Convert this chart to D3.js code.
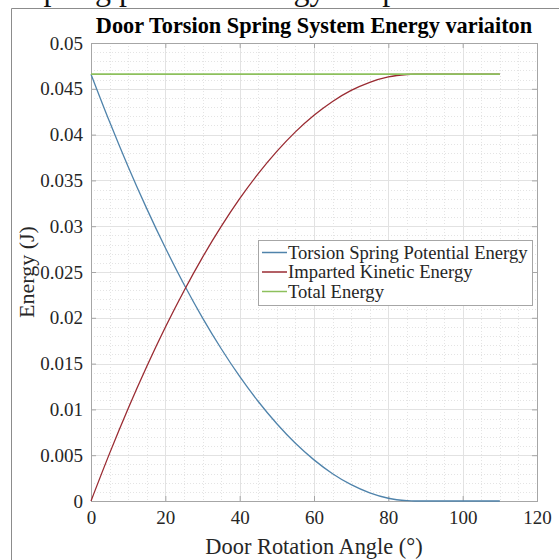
<!DOCTYPE html>
<html>
<head>
<meta charset="utf-8">
<script src="https://cdn.jsdelivr.net/npm/d3@7"></script>
<style>
  body { margin: 0; background: #fff; }
  svg { display: block; }
  text { font-family: "Liberation Serif", "Times New Roman", serif; fill: #262626; }
</style>
</head>
<body>
<svg id="chart" width="559" height="560"></svg>
<script>
// Door rotation angle (degrees)
const angles = [0, 5, 10, 15, 20, 25, 30, 35, 40, 45, 50, 55, 60, 65, 70, 75, 80, 85, 87, 90, 95, 100, 105, 110];
// Energy stored in the torsion spring (J)
const springEnergy = [0.0466, 0.0414, 0.0365, 0.03192, 0.02764, 0.02367, 0.0200, 0.01665, 0.0136, 0.01086, 0.00843, 0.0063, 0.00449, 0.00298, 0.00178, 0.00089, 0.0003, 0.00004, 0, 0, 0, 0, 0, 0];
// Kinetic energy imparted to the door (J)
const kineticEnergy = [0, 0.0052, 0.0101, 0.01468, 0.01896, 0.02293, 0.0266, 0.02995, 0.033, 0.03574, 0.03817, 0.0403, 0.04211, 0.04362, 0.04482, 0.04571, 0.0463, 0.04656, 0.0466, 0.0466, 0.0466, 0.0466, 0.0466, 0.0466];
// Sum of both (J)
const totalEnergy = [0.0466, 0.0466, 0.0466, 0.0466, 0.0466, 0.0466, 0.0466, 0.0466, 0.0466, 0.0466, 0.0466, 0.0466, 0.0466, 0.0466, 0.0466, 0.0466, 0.0466, 0.0466, 0.0466, 0.0466, 0.0466, 0.0466, 0.0466, 0.0466];

const seriesNames = ["Torsion Spring Potential Energy", "Imparted Kinetic Energy", "Total Energy"];
const seriesColors = ["#4f83ab", "#9a2b32", "#8dc05c"];
const xTicks = [0, 20, 40, 60, 80, 100, 120];
const yTicks = [0, 0.005, 0.01, 0.015, 0.02, 0.025, 0.03, 0.035, 0.04, 0.045, 0.05];
const xMinor = d3.range(0, 121, 5);
const yMinor = d3.range(0, 51, 1).map(v => v / 1000);

const titleText = "Door Torsion Spring System Energy variaiton";
const xLabel = "Door Rotation Angle (\u00B0)";
const yLabel = "Energy (J)";
const captionText = "spring potential energy to open the door quickly";

const svg = d3.select("#chart");
const W = 559, H = 560;
const pLeft = 91, pRight = 537, pTop = 43, pBottom = 501;

const x = d3.scaleLinear().domain([0, 120]).range([pLeft, pRight]);
const y = d3.scaleLinear().domain([0, 0.05]).range([pBottom, pTop]);

// caption line above the figure, running off the top edge
svg.append("text")
  .attr("x", 31).attr("y", 0)
  .style("font-size", "32px")
  .style("fill", "#111")
  .text(captionText);

// figure frame
svg.append("path")
  .attr("d", `M11.5,${H} V8.5 H${W}`)
  .attr("fill", "none")
  .attr("stroke", "#8c8c8c")
  .attr("stroke-width", 1);

// plot background
svg.append("rect")
  .attr("x", pLeft).attr("y", pTop)
  .attr("width", pRight - pLeft).attr("height", pBottom - pTop)
  .attr("fill", "#fff");

// minor grid (dotted)
const grid = svg.append("g");
grid.selectAll(".mx").data(xMinor.filter(v => v % 20 !== 0)).join("line")
  .attr("x1", d => Math.round(x(d)) + 0.5).attr("x2", d => Math.round(x(d)) + 0.5)
  .attr("y1", pTop).attr("y2", pBottom)
  .attr("stroke", "#e4e4e4").attr("stroke-dasharray", "1,2");
grid.selectAll(".my").data(yMinor.filter((v, i) => i % 5 !== 0)).join("line")
  .attr("y1", d => Math.round(y(d)) + 0.5).attr("y2", d => Math.round(y(d)) + 0.5)
  .attr("x1", pLeft).attr("x2", pRight)
  .attr("stroke", "#e4e4e4").attr("stroke-dasharray", "1,2");
// major grid
grid.selectAll(".gx").data(xTicks).join("line")
  .attr("x1", d => Math.round(x(d)) + 0.5).attr("x2", d => Math.round(x(d)) + 0.5)
  .attr("y1", pTop).attr("y2", pBottom)
  .attr("stroke", "#e2e2e2");
grid.selectAll(".gy").data(yTicks).join("line")
  .attr("y1", d => Math.round(y(d)) + 0.5).attr("y2", d => Math.round(y(d)) + 0.5)
  .attr("x1", pLeft).attr("x2", pRight)
  .attr("stroke", "#e2e2e2");

// axes with inward ticks on all four sides
const axisColor = "#a6a6a6";
function styleAxis(g) {
  g.select(".domain").remove();
  g.selectAll(".tick line").attr("stroke", axisColor);
  g.selectAll(".tick text").style("font-size", "19px").style("font-family", "Liberation Serif, serif").attr("fill", "#262626");
}
const fmtY = d => d === 0 ? "0" : String(+d.toFixed(3));
svg.append("g").attr("transform", `translate(0,${pBottom})`)
  .call(d3.axisBottom(x).tickValues(xTicks).tickSize(-5).tickPadding(10).tickFormat(d3.format("d")))
  .call(styleAxis);
svg.append("g").attr("transform", `translate(0,${pTop})`)
  .call(d3.axisTop(x).tickValues(xTicks).tickSize(-5).tickFormat(""))
  .call(styleAxis);
svg.append("g").attr("transform", `translate(${pLeft},0)`)
  .call(d3.axisLeft(y).tickValues(yTicks).tickSize(-5).tickPadding(8).tickFormat(fmtY))
  .call(styleAxis);
svg.append("g").attr("transform", `translate(${pRight},0)`)
  .call(d3.axisRight(y).tickValues(yTicks).tickSize(-5).tickFormat(""))
  .call(styleAxis);

// box
svg.append("rect")
  .attr("x", pLeft + 0.5).attr("y", pTop + 0.5)
  .attr("width", pRight - pLeft).attr("height", pBottom - pTop)
  .attr("fill", "none").attr("stroke", axisColor);

// series lines
const series = [springEnergy, kineticEnergy, totalEnergy];
const line = d3.line()
  .x((d, i) => x(angles[i]))
  .y(d => y(d))
  .curve(d3.curveMonotoneX);
const widths = [1.3, 1.3, 1.8];
series.forEach((vals, k) => {
  svg.append("path")
    .datum(vals)
    .attr("d", line)
    .attr("fill", "none")
    .attr("stroke", seriesColors[k])
    .attr("stroke-width", widths[k]);
});

// legend
const lg = svg.append("g").attr("transform", "translate(258,240)");
lg.append("rect")
  .attr("x", 0.5).attr("y", 0.5).attr("width", 274).attr("height", 65)
  .attr("fill", "#fff").attr("stroke", "#a6a6a6");
seriesNames.forEach((name, k) => {
  const cy = 12.5 + k * 19.5;
  lg.append("line")
    .attr("x1", 4).attr("x2", 29).attr("y1", cy).attr("y2", cy)
    .attr("stroke", seriesColors[k]).attr("stroke-width", 1.5);
  lg.append("text")
    .attr("x", 30).attr("y", cy + 6)
    .style("font-size", "18.6px")
    .text(name);
});

// title and axis labels
svg.append("text")
  .attr("x", (pLeft + pRight) / 2).attr("y", 33)
  .attr("text-anchor", "middle")
  .style("font-size", "22.3px").style("font-weight", "bold")
  .style("fill", "#000")
  .text(titleText);
svg.append("text")
  .attr("x", (pLeft + pRight) / 2).attr("y", 554)
  .attr("text-anchor", "middle")
  .style("font-size", "22.4px")
  .text(xLabel);
svg.append("text")
  .attr("transform", `translate(34,${(pTop + pBottom) / 2}) rotate(-90)`)
  .attr("text-anchor", "middle")
  .style("font-size", "22px")
  .text(yLabel);
</script>
</body>
</html>
